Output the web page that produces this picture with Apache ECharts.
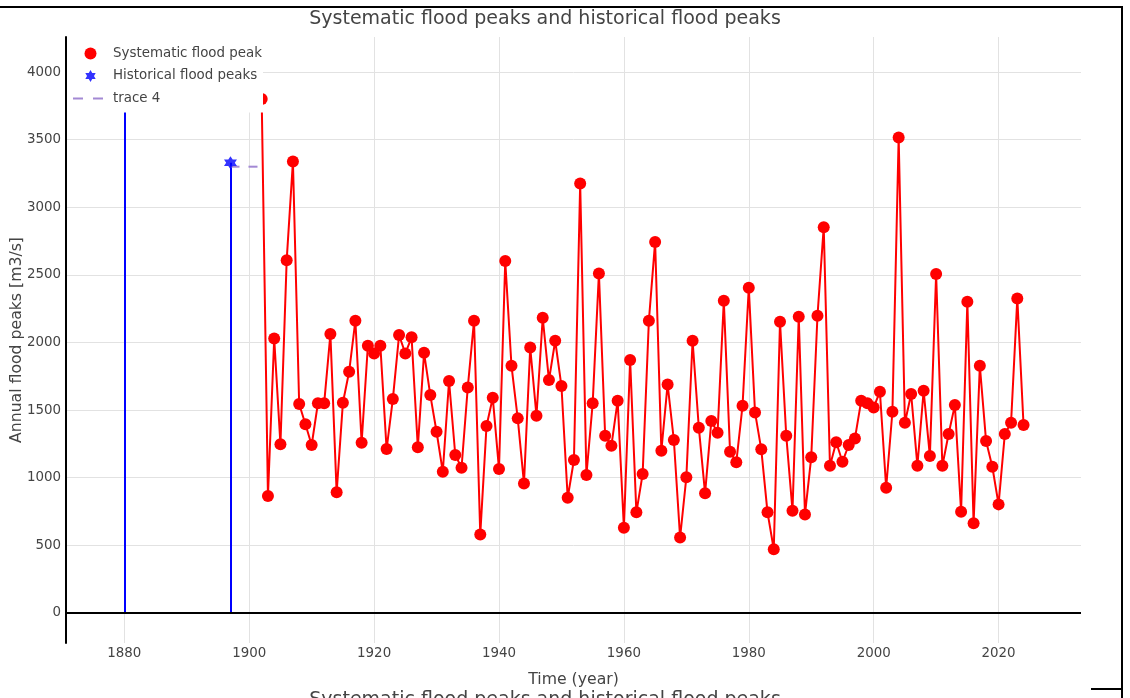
<!DOCTYPE html>
<html>
<head>
<meta charset="utf-8">
<script src="https://cdn.jsdelivr.net/npm/echarts@6/dist/echarts.min.js"></script>
<style>
  html, body { margin: 0; padding: 0; background: #fff; }
  #chart { width: 1130px; height: 698px; }
</style>
</head>
<body>
<div id="chart"></div>
<script>
// Annual flood peaks (m3/s), one value per year starting at firstYear
const firstYear = 1902;
const systematicPeaks = [
  3800, 865, 2030, 1247, 2609, 3338, 1545, 1395, 1242, 1550,
  1550, 2062, 892, 1554, 1784, 2161, 1259, 1976, 1919, 1976,
  1212, 1582, 2055, 1919, 2038, 1225, 1924, 1611, 1340, 1044,
  1715, 1168, 1074, 1668, 2161, 581, 1382, 1592, 1064, 2602,
  1828, 1439, 958, 1963, 1459, 2183, 1722, 2013, 1678, 852,
  1131, 3176, 1020, 1550, 2511, 1311, 1237, 1569, 631, 1870,
  744, 1027, 2161, 2744, 1200, 1690, 1279, 558, 1003, 2013,
  1370, 885, 1419, 1333, 2308, 1192, 1114, 1533, 2405, 1483,
  1210, 744, 471, 2153, 1311, 756, 2190, 729, 1151, 2198,
  2853, 1089, 1262, 1118, 1242, 1291, 1569, 1550, 1520, 1636,
  926, 1488, 3516, 1407, 1619, 1089, 1643, 1160, 2506, 1089,
  1323, 1537, 749, 2301, 663, 1828, 1271, 1081, 803, 1323,
  1407, 2326, 1390
];

// Historical (pre-gauge) floods
const historicalYears = [1880, 1897];
const historicalPeaks = [4000, 3330];

// Dashed reference level drawn as "trace 4"
const trace4Years = [1897, 1902];
const trace4Values = [3300, 3300];

// Axis ticks
const xTicks = [1880, 1900, 1920, 1940, 1960, 1980, 2000, 2020];
const yTicks = [0, 500, 1000, 1500, 2000, 2500, 3000, 3500, 4000];

const TITLE = 'Systematic flood peaks and historical flood peaks';
const FONT = '"DejaVu Sans", Verdana, sans-serif';
const TEXT = '#444';
const GRID = '#e2e2e2';
const PURPLE = '#a389d4';
const STAR = 'path://M0,-10L2.89,-5L8.66,-5L5.77,0L8.66,5L2.89,5L0,10L-2.89,5L-8.66,5L-5.77,0L-8.66,-5L-2.89,-5Z';
// Legend swatch for the dashed trace: two short dashes inside a 35x12 box
const DASH_ICON = 'path://M0,0M35,12M0,5h10v2h-10zM20,5h10v2h-10z';

const systematicData = systematicPeaks.map((v, i) => [firstYear + i, v]);
const historicalData = historicalYears.map((y, i) => [y, historicalPeaks[i]]);
const stemData = historicalYears.map((y, i) => [{ coord: [y, 0] }, { coord: [y, historicalPeaks[i]] }]);
const trace4Data = trace4Years.map((y, i) => [y, trace4Values[i]]);

const chart = echarts.init(document.getElementById('chart'), null, { renderer: 'canvas' });

chart.setOption({
  animation: false,
  backgroundColor: '#fff',
  textStyle: { fontFamily: FONT },
  title: [
    {
      text: TITLE, left: 545, top: 10, textAlign: 'center', padding: 0,
      textStyle: { fontFamily: FONT, fontSize: 19, fontWeight: 'normal', color: TEXT }
    },
    {
      text: TITLE, left: 545, top: 691, textAlign: 'center', padding: 0,
      textStyle: { fontFamily: FONT, fontSize: 19, fontWeight: 'normal', color: TEXT }
    }
  ],
  legend: {
    orient: 'vertical',
    left: 67, top: 37,
    padding: [10, 1, 7.5, 6],
    itemWidth: 35, itemHeight: 12, itemGap: 9.5,
    backgroundColor: '#fff',
    z: 10,
    textStyle: { fontFamily: FONT, fontSize: 13.4, color: TEXT },
    data: [
      { name: 'Systematic flood peak', icon: 'circle' },
      { name: 'Historical flood peaks', icon: STAR },
      { name: 'trace 4', icon: DASH_ICON }
    ]
  },
  grid: { left: 66, right: 49, top: 37, bottom: 55, containLabel: false, outerBoundsMode: 'none' },
  xAxis: {
    type: 'value',
    min: 1870.66, max: 2033.2,
    name: 'Time (year)', nameLocation: 'middle', nameGap: 29, nameMoveOverlap: false,
    nameTextStyle: { fontFamily: FONT, fontSize: 15.7, color: TEXT },
    axisLine: { show: false, onZero: false },
    axisTick: { show: false, customValues: xTicks },
    axisLabel: {
      customValues: xTicks, margin: 4,
      fontFamily: FONT, fontSize: 13.4, color: TEXT,
      formatter: v => String(v)
    },
    splitLine: { show: true, lineStyle: { color: GRID, width: 1 } }
  },
  yAxis: {
    type: 'value',
    min: -222, max: 4259,
    name: 'Annual flood peaks [m3/s]', nameLocation: 'middle', nameGap: 41, nameMoveOverlap: false,
    nameTextStyle: { fontFamily: FONT, fontSize: 15.7, color: TEXT },
    axisLine: { show: true, onZero: false, lineStyle: { color: '#000', width: 2 } },
    axisTick: { show: false, customValues: yTicks },
    axisLabel: {
      customValues: yTicks, margin: 5,
      fontFamily: FONT, fontSize: 13.4, color: TEXT,
      formatter: v => String(v)
    },
    splitLine: { show: true, lineStyle: { color: GRID, width: 1 } }
  },
  graphic: [
    { type: 'line', silent: true, z: 100, shape: { x1: 0, y1: 7, x2: 1123, y2: 7 }, style: { stroke: '#000', lineWidth: 2 } },
    { type: 'line', silent: true, z: 100, shape: { x1: 1122, y1: 7, x2: 1122, y2: 698 }, style: { stroke: '#000', lineWidth: 2 } },
    { type: 'line', silent: true, z: 100, shape: { x1: 1091, y1: 689, x2: 1122, y2: 689 }, style: { stroke: '#000', lineWidth: 2 } }
  ],
  series: [
    {
      name: 'Systematic flood peak',
      type: 'line',
      z: 4,
      data: systematicData,
      symbol: 'circle', symbolSize: 12, showAllSymbol: true,
      itemStyle: { color: '#ff0000' },
      lineStyle: { color: '#ff0000', width: 2 },
      markLine: {
        silent: true, z: 3, symbol: ['none', 'none'],
        label: { show: false },
        lineStyle: { color: '#000', width: 2, type: 'solid' },
        data: [{ yAxis: 0 }]
      }
    },
    {
      name: 'Historical flood peaks',
      type: 'scatter',
      z: 3,
      data: historicalData,
      symbol: STAR, symbolSize: 13,
      itemStyle: { color: '#0000ff' },
      markLine: {
        silent: true, z: 2, symbol: ['none', 'none'],
        label: { show: false },
        lineStyle: { color: '#0000ff', width: 2, type: 'solid' },
        data: stemData
      }
    },
    {
      name: 'trace 4',
      type: 'line',
      z: 3,
      data: trace4Data,
      symbol: 'none',
      itemStyle: { color: PURPLE },
      lineStyle: { color: PURPLE, width: 2, type: [9, 9] }
    }
  ]
});
</script>
</body>
</html>
